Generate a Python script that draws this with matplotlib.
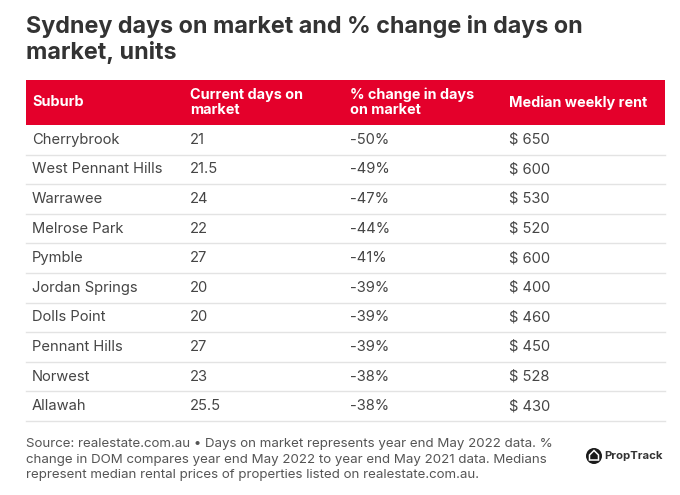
import matplotlib.pyplot as plt
from matplotlib.patches import Rectangle, Circle, Polygon

suburbs = ["Cherrybrook", "West Pennant Hills", "Warrawee", "Melrose Park", "Pymble",
           "Jordan Springs", "Dolls Point", "Pennant Hills", "Norwest", "Allawah"]
days_on_market = ["21", "21.5", "24", "22", "27", "20", "20", "27", "23", "25.5"]
pct_change = ["-50%", "-49%", "-47%", "-44%", "-41%", "-39%", "-39%", "-39%", "-38%", "-38%"]
weekly_rent = [650, 600, 530, 520, 600, 400, 460, 450, 528, 430]
headers = ["Suburb", "Current days on\nmarket", "% change in days\non market", "Median weekly rent"]

title = "Sydney days on market and % change in days on\nmarket, units"
source = ("Source: realestate.com.au \u2022 Days on market represents year end May 2022 data. %\n"
          "change in DOM compares year end May 2022 to year end May 2021 data. Medians\n"
          "represent median rental prices of properties listed on realestate.com.au.")

plt.rcParams['font.family'] = ['Inter', 'DejaVu Sans']

W, H = 680, 495
fig = plt.figure(figsize=(W / 100, H / 100), dpi=100)
ax = fig.add_axes([0, 0, 1, 1])
ax.set_xlim(0, W)
ax.set_ylim(H, 0)
ax.axis('off')

red = '#e4002b'
left, right = 26, 665
col_x = [32, 190, 350, 509]
head_top, head_bot = 80, 125
row_h = 29.6

ax.text(left, 39.5, title, fontsize=16.8, fontweight='bold', color='#333333',
        va='center', ha='left', linespacing=1.15)

ax.add_patch(Rectangle((left, head_top), right - left, head_bot - head_top,
                       facecolor=red, edgecolor='none'))
for x, h in zip(col_x, headers):
    ax.text(x, (head_top + head_bot) / 2, h, fontsize=10.4, fontweight='bold',
            color='white', va='center', ha='left', linespacing=1.1)

for i, (s, d, p, r) in enumerate(zip(suburbs, days_on_market, pct_change, weekly_rent)):
    yc = head_bot + row_h * (i + 0.5)
    for x, t in zip(col_x, [s, d, p, f"$ {r}"]):
        ax.text(x, yc, t, fontsize=10.6, color='#454545', va='center', ha='left')
    ax.plot([left, right], [head_bot + row_h * (i + 1)] * 2, color='#e3e3e3', lw=1)

ax.text(left, 459.5, source, fontsize=9.6, color='#555555', va='center', ha='left',
        linespacing=1.38)

# PropTrack logo
ax.add_patch(Circle((594, 456), 8, facecolor='#1a1a1a', edgecolor='none'))
ax.add_patch(Polygon([(589.5, 460), (589.5, 455), (594, 450.5), (598.5, 455), (598.5, 460)],
                     closed=True, facecolor='none', edgecolor='white', lw=1.1))
ax.text(604, 456, "PropTrack", fontsize=8.2, fontweight='bold', color='#333333',
        va='center', ha='left')

fig.savefig('out.png', dpi=100, facecolor='white')
